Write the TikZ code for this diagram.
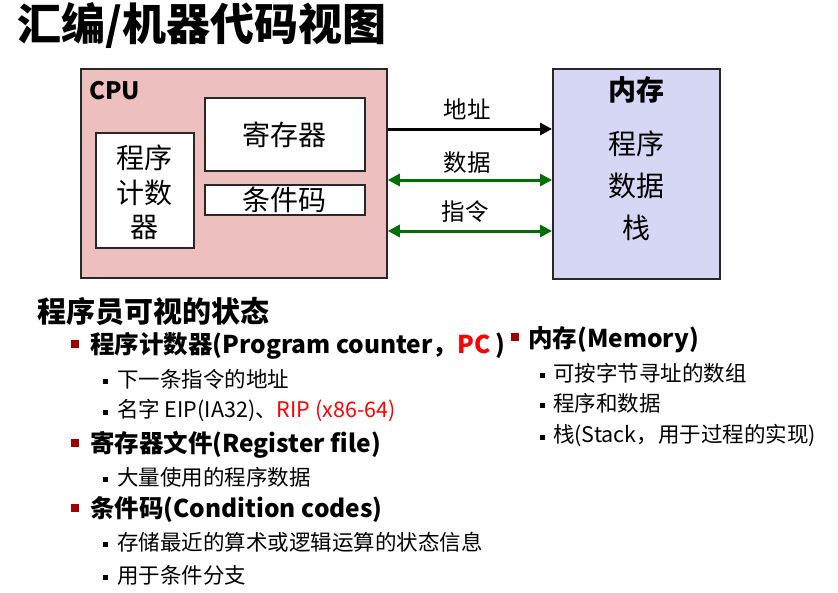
\documentclass[tikz,border=0pt]{standalone}
\usepackage{fontspec}
\setmainfont{Noto Sans CJK SC}
\usetikzlibrary{arrows.meta}
\definecolor{cpufill}{RGB}{238,191,191}
\definecolor{memfill}{RGB}{214,214,245}
\definecolor{edge}{RGB}{40,40,40}
\definecolor{busgreen}{RGB}{0,112,0}
\definecolor{bulletred}{RGB}{160,0,0}
\definecolor{hired}{RGB}{255,0,0}
\newcommand{\fs}[1]{\fontsize{#1}{#1}\selectfont}
\begin{document}
\begin{tikzpicture}[x=1pt,y=-1pt,
  >={Triangle[length=12pt,width=12pt]},
  unit/.style={draw=edge, line width=1.8pt, inner sep=0pt, anchor=north west},
  part/.style={unit, fill=white},
  lbl/.style={inner sep=0pt, font=\fs{28}},
  bus/.style={line width=3pt},
  head/.style={inner sep=0pt, anchor=west, font=\bfseries\fs{24.5}},
  sub/.style={inner sep=0pt, anchor=west, font=\fs{21.5}},
  rbul/.style={fill=bulletred, inner sep=0pt, minimum size=7.5pt},
  kbul/.style={fill=black, inner sep=0pt, minimum size=5pt}]
\useasboundingbox (0,0) rectangle (838,592);

% heading
\node[inner sep=0pt, anchor=west, font=\bfseries\fs{44}] (title) at (17,26) {汇编/机器代码视图};

% processor
\node[unit, fill=cpufill, minimum width=306pt, minimum height=209pt] (cpu) at (80,68) {};
\node[inner sep=0pt, anchor=west, font=\bfseries\fs{24}] (cpulbl) at (89,91) {CPU};
\node[part, minimum width=160pt, minimum height=73pt] (reg) at (204,97) {};
\node[lbl] (reglbl) at (reg) {寄存器};
\node[part, minimum width=160pt, minimum height=30pt] (cc) at (204,184) {};
\node[lbl] (cclbl) at (cc) {条件码};
\node[part, minimum width=98pt, minimum height=115pt] (pc) at (95,132) {};
\node[lbl, align=center, font={\fontsize{28}{34.5}\selectfont}] (pclbl) at ([yshift=-2pt]pc) {程序\\计数\\器};

% memory
\node[unit, fill=memfill, minimum width=167pt, minimum height=210pt] (mem) at (552,68) {};
\node[lbl, font=\bfseries\fs{28}] (memlbl) at (636,90) {内存};
\node[lbl] (m1) at (636,144) {程序};
\node[lbl] (m2) at (636,186) {数据};
\node[lbl] (m3) at (636,228) {栈};

% buses
\coordinate (ya) at (0,129);
\coordinate (yd) at (0,180);
\coordinate (yi) at (0,231);
\draw[bus, ->] (cpu.east |- ya) -- (mem.west |- ya);
\draw[bus, busgreen, <->] (cpu.east |- yd) -- (mem.west |- yd);
\draw[bus, busgreen, <->] (cpu.east |- yi) -- (mem.west |- yi);
\node[lbl, font=\fs{23.5}] (la) at (467,109) {地址};
\node[lbl, font=\fs{23.5}] (ld) at (467,163) {数据};
\node[lbl, font=\fs{23.5}] (li) at (465,212) {指令};

% programmer-visible state
\node[inner sep=0pt, anchor=west, font=\bfseries\fs{29}] (vis) at (37,311) {程序员可视的状态};

\node[rbul] (b1) at (75,344) {};
\node[head] (h1) at (90,346) {程序计数器(Program counter，\textcolor{hired}{PC} )};
\node[kbul] (s11b) at (105,381) {};
\node[sub] (s11) at (117,379) {下一条指令的地址};
\node[kbul] (s12b) at (105,412) {};
\node[sub] (s12) at (117,410) {名字 EIP(IA32)、\textcolor{hired}{RIP (x86-64)}};

\node[rbul] (b2) at (75,443) {};
\node[head] (h2) at (90,445) {寄存器文件(Register file)};
\node[kbul] (s21b) at (105,479) {};
\node[sub] (s21) at (117,477) {大量使用的程序数据};

\node[rbul] (b3) at (75,508) {};
\node[head] (h3) at (90,510) {条件码(Condition codes)};
\node[kbul] (s31b) at (105,544) {};
\node[sub] (s31) at (117,542) {存储最近的算术或逻辑运算的状态信息};
\node[kbul] (s32b) at (105,577) {};
\node[sub] (s32) at (117,575) {用于条件分支};

\node[rbul] (b4) at (515,337) {};
\node[head] (h4) at (528,340) {内存(Memory)};
\node[kbul] (s41b) at (542,375) {};
\node[sub] (s41) at (553,373) {可按字节寻址的数组};
\node[kbul] (s42b) at (542,405) {};
\node[sub] (s42) at (553,403) {程序和数据};
\node[kbul] (s43b) at (542,437) {};
\node[sub] (s43) at (553,435) {栈(Stack，用于过程的实现)};
\end{tikzpicture}
\end{document}
